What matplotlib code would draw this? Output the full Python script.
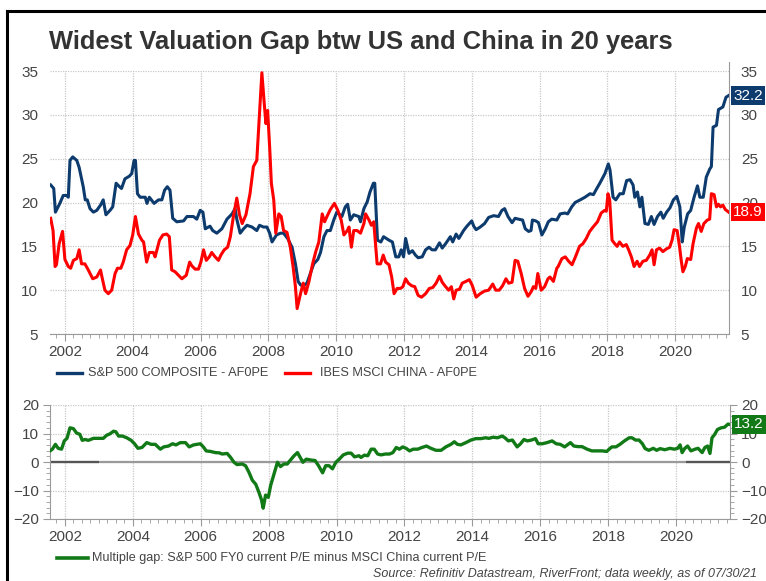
import numpy as np
import matplotlib
matplotlib.use('Agg')
import matplotlib.pyplot as plt
import matplotlib.ticker as ticker
import matplotlib.transforms as mtransforms
from matplotlib.lines import Line2D

plt.rcParams['font.family'] = ['Liberation Sans', 'DejaVu Sans']

# S&P 500 forward P/E (decimal year, value)
spx_t = [2001.58, 2001.67, 2001.72, 2001.85, 2001.95, 2002.05, 2002.10, 2002.15, 2002.23, 2002.35,
         2002.42, 2002.54, 2002.60, 2002.66, 2002.74, 2002.84, 2002.94, 2003.05, 2003.13, 2003.21,
         2003.33, 2003.41, 2003.51, 2003.61, 2003.67, 2003.77, 2003.90, 2003.97, 2004.04, 2004.08,
         2004.14, 2004.22, 2004.37, 2004.42, 2004.49, 2004.63, 2004.76, 2004.86, 2004.94, 2005.02,
         2005.10, 2005.18, 2005.30, 2005.50, 2005.60, 2005.79, 2005.89, 2005.99, 2006.07, 2006.14,
         2006.28, 2006.36, 2006.48, 2006.63, 2006.78, 2006.93, 2007.02, 2007.07, 2007.17, 2007.27,
         2007.37, 2007.52, 2007.66, 2007.74, 2007.86, 2007.96, 2008.04, 2008.11, 2008.24, 2008.36,
         2008.45, 2008.57, 2008.70, 2008.80, 2008.88, 2008.95, 2009.04, 2009.14, 2009.24, 2009.34,
         2009.46, 2009.54, 2009.64, 2009.73, 2009.83, 2009.93, 2010.02, 2010.17, 2010.27, 2010.34,
         2010.42, 2010.52, 2010.67, 2010.72, 2010.82, 2010.92, 2011.00, 2011.10, 2011.14, 2011.22,
         2011.32, 2011.40, 2011.56, 2011.66, 2011.76, 2011.85, 2011.92, 2011.99, 2012.05, 2012.15,
         2012.25, 2012.34, 2012.42, 2012.54, 2012.64, 2012.74, 2012.83, 2012.93, 2013.05, 2013.13,
         2013.23, 2013.37, 2013.44, 2013.54, 2013.62, 2013.76, 2013.86, 2014.00, 2014.06, 2014.13,
         2014.25, 2014.38, 2014.50, 2014.65, 2014.79, 2014.89, 2014.97, 2015.07, 2015.19, 2015.28,
         2015.38, 2015.50, 2015.58, 2015.68, 2015.75, 2015.79, 2015.89, 2015.97, 2016.07, 2016.17,
         2016.26, 2016.36, 2016.51, 2016.61, 2016.75, 2016.83, 2016.95, 2017.05, 2017.20, 2017.34,
         2017.49, 2017.59, 2017.69, 2017.78, 2017.93, 2018.03, 2018.08, 2018.17, 2018.25, 2018.37,
         2018.47, 2018.57, 2018.67, 2018.76, 2018.81, 2018.89, 2018.96, 2019.02, 2019.11, 2019.21,
         2019.30, 2019.38, 2019.48, 2019.58, 2019.65, 2019.75, 2019.85, 2019.95, 2020.05, 2020.14,
         2020.21, 2020.27, 2020.37, 2020.46, 2020.56, 2020.66, 2020.73, 2020.83, 2020.92, 2021.02,
         2021.07, 2021.12, 2021.22, 2021.28, 2021.41, 2021.50, 2021.58]
spx_v = [22.0, 21.6, 18.9, 19.9, 20.8, 20.8, 20.6, 24.8, 25.2, 24.8,
         24.0, 21.8, 20.3, 20.3, 19.3, 18.9, 19.1, 19.7, 20.3, 18.6,
         19.1, 19.5, 22.2, 21.8, 21.6, 22.7, 23.0, 23.3, 24.8, 24.8,
         21.0, 20.6, 20.6, 19.9, 20.6, 19.9, 20.3, 20.3, 21.4, 21.8,
         21.4, 18.2, 17.8, 17.9, 18.4, 18.4, 18.1, 19.1, 18.9, 17.0,
         17.3, 16.8, 16.5, 17.0, 18.1, 18.7, 19.3, 18.1, 16.5, 17.0,
         17.4, 17.2, 16.8, 17.4, 17.2, 17.2, 16.5, 15.5, 16.3, 16.5,
         16.5, 15.9, 14.9, 13.0, 11.0, 10.6, 10.5, 10.8, 11.9, 13.0,
         13.5, 14.3, 16.1, 16.8, 16.8, 18.0, 18.9, 18.4, 19.5, 19.8,
         18.0, 18.6, 18.4, 17.8, 19.3, 20.1, 21.2, 22.2, 22.2, 15.7,
         15.5, 16.1, 15.7, 15.5, 13.8, 13.8, 14.6, 13.8, 15.9, 14.2,
         14.5, 14.0, 13.7, 13.8, 14.6, 14.9, 14.6, 14.6, 15.4, 14.8,
         15.3, 16.1, 15.5, 16.4, 15.9, 16.8, 17.3, 17.9, 17.3, 16.9,
         17.2, 17.6, 18.3, 18.5, 18.4, 19.1, 19.3, 18.4, 17.7, 18.2,
         18.1, 18.0, 17.0, 16.7, 16.8, 18.0, 17.9, 17.7, 16.3, 17.0,
         17.8, 18.1, 18.0, 18.7, 18.8, 18.7, 19.5, 20.0, 20.3, 20.6,
         21.0, 20.9, 21.6, 22.2, 23.3, 24.4, 23.7, 20.6, 20.3, 21.0,
         21.0, 22.5, 22.6, 22.0, 20.6, 21.2, 19.5, 20.6, 17.6, 17.5,
         18.4, 17.5, 18.4, 18.9, 18.2, 18.9, 19.4, 20.3, 20.7, 19.5,
         15.5, 17.2, 18.7, 19.1, 20.6, 21.9, 20.6, 20.6, 22.9, 23.8,
         24.1, 28.6, 28.8, 30.6, 30.9, 32.0, 32.2]

# IBES MSCI China forward P/E
chn_t = [2001.58, 2001.65, 2001.71, 2001.75, 2001.83, 2001.93, 2002.00, 2002.10, 2002.17, 2002.25,
         2002.35, 2002.42, 2002.49, 2002.59, 2002.69, 2002.82, 2002.94, 2003.05, 2003.11, 2003.18,
         2003.28, 2003.38, 2003.48, 2003.55, 2003.65, 2003.72, 2003.82, 2003.92, 2004.00, 2004.08,
         2004.17, 2004.27, 2004.32, 2004.41, 2004.49, 2004.61, 2004.66, 2004.79, 2004.89, 2005.00,
         2005.08, 2005.15, 2005.25, 2005.35, 2005.45, 2005.58, 2005.68, 2005.74, 2005.84, 2005.94,
         2006.01, 2006.09, 2006.17, 2006.26, 2006.33, 2006.43, 2006.53, 2006.60, 2006.70, 2006.80,
         2006.88, 2006.97, 2007.07, 2007.15, 2007.23, 2007.34, 2007.46, 2007.56, 2007.66, 2007.74,
         2007.81, 2007.88, 2007.93, 2007.98, 2008.04, 2008.09, 2008.16, 2008.22, 2008.31, 2008.38,
         2008.45, 2008.55, 2008.65, 2008.73, 2008.80, 2008.85, 2008.95, 2009.03, 2009.10, 2009.20,
         2009.30, 2009.40, 2009.49, 2009.59, 2009.66, 2009.73, 2009.83, 2009.95, 2010.05, 2010.15,
         2010.23, 2010.33, 2010.38, 2010.45, 2010.52, 2010.62, 2010.72, 2010.82, 2010.87, 2010.97,
         2011.04, 2011.11, 2011.21, 2011.31, 2011.39, 2011.46, 2011.56, 2011.64, 2011.71, 2011.80,
         2011.90, 2011.97, 2012.05, 2012.13, 2012.23, 2012.32, 2012.42, 2012.52, 2012.64, 2012.75,
         2012.85, 2012.95, 2013.05, 2013.13, 2013.23, 2013.32, 2013.40, 2013.47, 2013.54, 2013.64,
         2013.72, 2013.83, 2013.93, 2014.01, 2014.13, 2014.25, 2014.38, 2014.50, 2014.62, 2014.71,
         2014.81, 2014.91, 2015.01, 2015.09, 2015.19, 2015.28, 2015.36, 2015.46, 2015.56, 2015.66,
         2015.75, 2015.82, 2015.89, 2015.95, 2016.05, 2016.15, 2016.25, 2016.31, 2016.41, 2016.51,
         2016.55, 2016.66, 2016.76, 2016.86, 2016.96, 2017.06, 2017.18, 2017.28, 2017.38, 2017.48,
         2017.58, 2017.71, 2017.82, 2017.92, 2017.97, 2018.02, 2018.07, 2018.14, 2018.22, 2018.29,
         2018.36, 2018.46, 2018.56, 2018.63, 2018.71, 2018.79, 2018.88, 2018.95, 2019.05, 2019.15,
         2019.25, 2019.32, 2019.38, 2019.45, 2019.54, 2019.64, 2019.74, 2019.84, 2019.91, 2019.97,
         2020.06, 2020.13, 2020.18, 2020.23, 2020.30, 2020.36, 2020.46, 2020.53, 2020.63, 2020.69,
         2020.77, 2020.85, 2020.95, 2021.02, 2021.07, 2021.15, 2021.22, 2021.28, 2021.34, 2021.41,
         2021.48, 2021.58]
chn_v = [18.2, 16.8, 12.7, 12.9, 15.3, 16.7, 13.5, 12.7, 12.5, 13.4,
         13.6, 14.6, 13.0, 13.0, 12.3, 11.3, 11.5, 12.3, 11.2, 10.0,
         9.6, 10.0, 11.9, 12.5, 12.5, 13.2, 14.6, 15.1, 16.3, 18.4,
         16.4, 15.7, 15.5, 13.2, 14.3, 14.3, 13.8, 15.7, 16.3, 16.4,
         16.1, 12.3, 12.1, 11.7, 11.3, 11.7, 13.2, 12.8, 12.4, 12.4,
         13.2, 14.6, 13.4, 13.8, 14.3, 13.8, 13.4, 14.0, 14.6, 14.9,
         16.1, 18.4, 20.5, 18.6, 17.6, 18.6, 21.0, 24.1, 24.8, 30.1,
         34.8, 31.3, 29.0, 30.5, 26.3, 22.2, 20.3, 16.5, 18.7, 18.4,
         16.8, 16.6, 14.9, 12.7, 10.4, 7.9, 9.6, 10.8, 9.6, 11.0,
         12.9, 14.4, 15.5, 18.7, 17.8, 18.4, 19.2, 19.9, 19.1, 18.0,
         16.3, 16.8, 17.2, 14.9, 16.8, 16.8, 16.5, 17.6, 18.7, 18.0,
         17.4, 17.8, 13.0, 13.0, 14.0, 13.2, 12.9, 11.5, 9.6, 10.2,
         10.2, 10.4, 11.3, 10.8, 10.5, 10.4, 9.4, 9.2, 9.6, 10.2,
         10.3, 10.8, 11.6, 10.9, 10.4, 10.0, 10.4, 9.0, 10.0, 10.1,
         10.8, 11.0, 11.2, 10.6, 9.2, 9.6, 9.9, 10.0, 10.7, 10.0,
         10.0, 10.5, 11.3, 10.8, 10.9, 13.4, 13.3, 11.9, 10.2, 9.3,
         9.8, 10.4, 10.2, 11.9, 10.0, 10.4, 11.3, 11.5, 11.0, 12.5,
         12.7, 13.6, 13.8, 13.3, 12.9, 13.8, 15.0, 15.3, 15.9, 16.7,
         17.2, 17.8, 18.8, 19.1, 19.0, 21.0, 20.3, 15.7, 15.3, 15.0,
         15.5, 15.0, 15.2, 14.6, 13.8, 12.7, 13.3, 12.7, 13.3, 13.4,
         14.0, 14.6, 12.9, 14.6, 14.8, 14.4, 14.7, 14.9, 15.7, 16.9,
         16.8, 15.0, 13.4, 12.1, 12.7, 13.6, 13.5, 15.3, 17.1, 17.6,
         16.7, 17.6, 18.0, 18.1, 21.0, 20.9, 19.5, 19.8, 19.5, 19.7,
         19.2, 18.9]

# multiple gap: S&P 500 FY0 P/E minus MSCI China P/E
gap_t = [2001.56, 2001.63, 2001.72, 2001.80, 2001.90, 2001.98, 2002.06, 2002.15, 2002.25, 2002.34,
         2002.44, 2002.51, 2002.59, 2002.69, 2002.84, 2002.99, 2003.13, 2003.23, 2003.33, 2003.43,
         2003.50, 2003.58, 2003.69, 2003.82, 2003.95, 2004.05, 2004.15, 2004.27, 2004.41, 2004.54,
         2004.66, 2004.81, 2004.91, 2005.05, 2005.17, 2005.27, 2005.40, 2005.55, 2005.66, 2005.79,
         2005.89, 2005.99, 2006.09, 2006.16, 2006.29, 2006.43, 2006.55, 2006.63, 2006.78, 2006.88,
         2006.98, 2007.07, 2007.22, 2007.32, 2007.42, 2007.52, 2007.62, 2007.71, 2007.79, 2007.84,
         2007.91, 2007.99, 2008.06, 2008.16, 2008.26, 2008.35, 2008.45, 2008.55, 2008.63, 2008.75,
         2008.85, 2008.93, 2009.01, 2009.11, 2009.24, 2009.37, 2009.47, 2009.59, 2009.68, 2009.78,
         2009.88, 2009.98, 2010.08, 2010.20, 2010.33, 2010.43, 2010.53, 2010.66, 2010.72, 2010.82,
         2010.92, 2011.02, 2011.11, 2011.21, 2011.31, 2011.44, 2011.56, 2011.66, 2011.76, 2011.85,
         2011.95, 2012.05, 2012.15, 2012.26, 2012.39, 2012.52, 2012.65, 2012.78, 2012.93, 2013.08,
         2013.22, 2013.37, 2013.47, 2013.56, 2013.66, 2013.81, 2013.96, 2014.10, 2014.25, 2014.39,
         2014.49, 2014.61, 2014.74, 2014.88, 2014.96, 2015.06, 2015.18, 2015.32, 2015.42, 2015.52,
         2015.62, 2015.74, 2015.86, 2015.94, 2016.06, 2016.20, 2016.35, 2016.47, 2016.59, 2016.72,
         2016.89, 2016.99, 2017.11, 2017.23, 2017.38, 2017.52, 2017.67, 2017.82, 2017.96, 2018.03,
         2018.11, 2018.23, 2018.35, 2018.48, 2018.62, 2018.70, 2018.81, 2018.91, 2019.01, 2019.09,
         2019.20, 2019.33, 2019.43, 2019.53, 2019.67, 2019.82, 2019.95, 2020.05, 2020.12, 2020.18,
         2020.26, 2020.34, 2020.44, 2020.56, 2020.65, 2020.77, 2020.85, 2020.93, 2021.00, 2021.06,
         2021.14, 2021.22, 2021.33, 2021.43, 2021.53, 2021.58]
gap_v = [3.9, 4.5, 6.2, 4.8, 4.5, 7.4, 8.3, 12.0, 11.7, 10.2,
         9.7, 7.6, 7.9, 7.6, 8.3, 8.3, 8.3, 9.4, 9.9, 10.8,
         10.6, 9.1, 9.1, 8.5, 7.6, 6.4, 4.8, 5.1, 6.8, 6.2,
         6.2, 4.5, 5.3, 5.6, 6.4, 6.0, 6.8, 6.8, 5.3, 6.0,
         6.2, 6.4, 5.1, 3.9, 3.7, 3.3, 3.2, 2.8, 3.0, 1.6,
         -0.1, -0.9, -0.7, -1.3, -3.6, -6.4, -7.8, -10.5, -13.3, -16.2,
         -11.6, -12.4, -8.2, -4.1, -0.1, -1.6, -0.7, -0.7, 0.5, 2.2,
         3.3, 1.6, -0.1, 1.0, 0.7, 0.5, -1.3, -3.8, -1.3, -1.3,
         -2.4, -0.1, 1.0, 2.5, 3.1, 3.1, 1.8, 2.2, 1.6, 2.4,
         2.2, 4.5, 4.5, 2.8, 2.5, 2.8, 2.8, 3.3, 5.1, 4.5,
         5.3, 4.8, 3.9, 4.5, 4.5, 5.1, 5.6, 4.8, 4.1, 4.1,
         5.3, 6.2, 7.1, 6.2, 6.0, 6.8, 7.7, 8.2, 8.2, 8.5,
         8.3, 8.7, 8.5, 9.1, 8.5, 7.4, 7.7, 5.3, 6.4, 7.9,
         7.4, 7.7, 8.2, 6.4, 6.4, 6.8, 7.4, 6.4, 6.2, 5.3,
         6.8, 5.6, 5.4, 5.4, 4.5, 3.9, 3.9, 3.9, 3.7, 4.5,
         5.3, 5.3, 6.2, 7.4, 8.5, 8.5, 7.7, 7.7, 6.4, 4.7,
         4.1, 4.8, 4.1, 4.7, 4.3, 4.8, 4.5, 4.8, 6.0, 3.3,
         4.8, 5.6, 3.9, 4.5, 4.8, 3.3, 5.1, 5.6, 3.0, 8.5,
         9.7, 11.4, 12.0, 12.2, 13.3, 13.2]

years = list(range(2002, 2021, 2))
top_yticks = [5, 10, 15, 20, 25, 30, 35]
bot_yticks = [-20, -10, 0, 10, 20]

navy = '#0d3b6e'
red = '#ff0000'
green = '#117a17'
txt = '#444444'
spine_c = '#9a9a9a'
xmin, xmax = 2001.56, 2021.59

fig = plt.figure(figsize=(7.66, 5.81), dpi=100)

# frame of the screenshot
fig.add_artist(Line2D([0.009, 1.0], [1 - 11 / 581, 1 - 11 / 581], color='black', lw=2.2))
fig.add_artist(Line2D([0.009, 0.009], [0.0, 1 - 11 / 581], color='black', lw=2.2))

fig.text(0.064, 1 - 42 / 581, 'Widest Valuation Gap btw US and China in 20 years',
         fontsize=18.4, fontweight='bold', color='#333333', va='center', ha='left')

ax1 = fig.add_axes([50 / 766, 1 - 334 / 581, 679 / 766, 263 / 581])
ax2 = fig.add_axes([50 / 766, 1 - 519 / 581, 680 / 766, 114 / 581])

ax1.plot(spx_t, spx_v, color=navy, lw=2.2, zorder=3)
ax1.plot(chn_t, chn_v, color=red, lw=2.2, zorder=3)
ax1.set_ylim(5, 35)
ax1.set_yticks(top_yticks)

ax2.plot(gap_t, gap_v, color=green, lw=2.4, zorder=3)
ax2.axhline(0, color='#9a9a9a', lw=1.6, zorder=2)
ax2.hlines(0, 2001.56, 2003.0, color='#555555', lw=1.6, zorder=2)
ax2.hlines(0, 2020.3, 2021.59, color='#555555', lw=1.6, zorder=2)
ax2.set_ylim(-20, 20)
ax2.set_yticks(bot_yticks)

for ax in (ax1, ax2):
    ax.set_xlim(xmin, xmax)
    ax.set_xticks(years)
    ax.xaxis.set_minor_locator(ticker.MultipleLocator(0.25))
    ax.grid(True, which='major', color='#c8c8c8', linestyle=(0, (1, 1)), lw=0.9)
    ax.set_axisbelow(True)
    ax.tick_params(axis='x', which='major', length=5, color=spine_c, labelsize=11,
                   labelcolor=txt, pad=3)
    ax.tick_params(axis='x', which='minor', length=3, color=spine_c)
    ax.spines['top'].set_visible(False)
    ax.spines['bottom'].set_color(spine_c)
    ax.spines['right'].set_color(spine_c)
    ax.tick_params(axis='y', labelsize=11, labelcolor=txt, left=True, right=True,
                   labelleft=True, labelright=True, color=spine_c)

ax1.spines['left'].set_visible(False)
ax1.tick_params(axis='y', which='major', left=False, right=False, pad=5)
ax1.spines['right'].set_bounds(5, 36.0)
ax1.spines['right'].set_clip_on(False)

ax2.spines['left'].set_color(spine_c)
ax2.yaxis.set_minor_locator(ticker.MultipleLocator(2))
ax2.tick_params(axis='y', which='major', length=5, pad=3)
ax2.tick_params(axis='y', which='minor', length=3, left=True, right=True, color=spine_c)

# last-value tags on the right axis
for ax, val, col in ((ax1, spx_v[-1], navy), (ax1, chn_v[-1], red), (ax2, gap_v[-1], green)):
    tr = mtransforms.blended_transform_factory(ax.transAxes, ax.transData)
    ax.text(1.006, val, '%.1f' % val, transform=tr, color='white', fontsize=11,
            va='center', ha='left', zorder=5,
            bbox=dict(boxstyle='square,pad=0.15', fc=col, ec='none'))

# legends
ly = 1 - 373 / 581
fig.add_artist(Line2D([57 / 766, 82 / 766], [ly, ly], color=navy, lw=2.4))
fig.text(88 / 766, ly, 'S&P 500 COMPOSITE - AF0PE', fontsize=9.2, color=txt, va='center')
fig.add_artist(Line2D([285 / 766, 310 / 766], [ly, ly], color=red, lw=2.4))
fig.text(320 / 766, ly, 'IBES MSCI CHINA - AF0PE', fontsize=9.2, color=txt, va='center')

ly2 = 1 - 558 / 581
fig.add_artist(Line2D([57 / 766, 88 / 766], [ly2, ly2], color=green, lw=2.6))
fig.text(92 / 766, ly2, 'Multiple gap: S&P 500 FY0 current P/E minus MSCI China current P/E',
         fontsize=9.1, color=txt, va='center')

fig.text(757 / 766, 1 - 574 / 581, 'Source: Refinitiv Datastream, RiverFront; data weekly, as of 07/30/21',
         fontsize=9, color=txt, va='center', ha='right', style='italic')

fig.savefig('out.png', dpi=100)
